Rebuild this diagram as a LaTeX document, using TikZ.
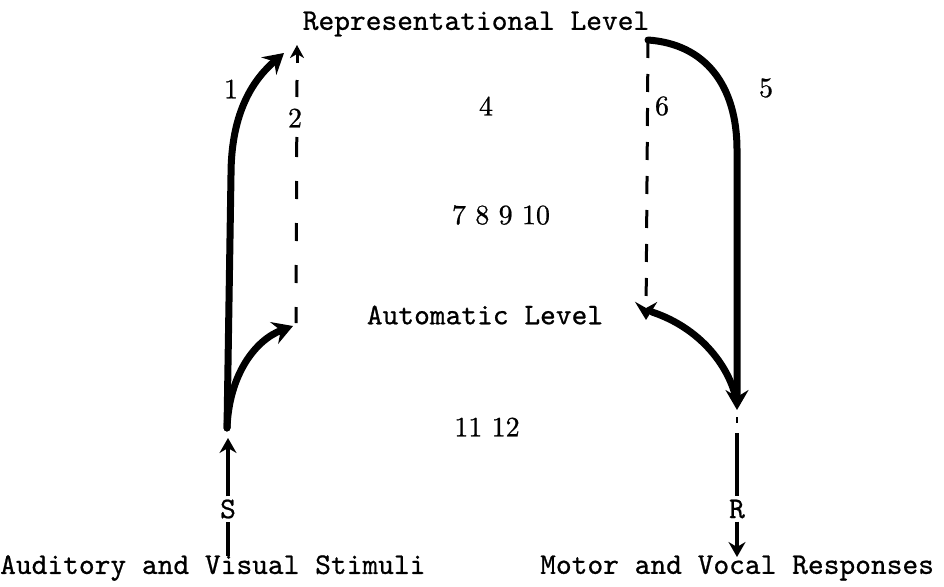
\documentclass[tikz,border=0pt]{standalone}
\usepackage{fontspec}
\newfontfamily\twfont{lmmono10-regular.otf}[FakeBold=0.7]
\newfontfamily\numfont{lmroman10-regular.otf}[FakeBold=0.8]
\usetikzlibrary{arrows.meta}
\tikzset{
  twtext/.style={font=\twfont\fontsize{30}{34}\selectfont, inner sep=0pt},
  numtext/.style={font=\numfont\fontsize{28}{32}\selectfont, inner sep=0pt},
  bigarrow/.style={line width=7pt, line cap=round, -{Stealth[length=20pt,width=23pt,inset=7pt]}},
  bigline/.style={line width=7pt, line cap=round},
  smallhead/.style={line width=3pt, -{Stealth[length=13pt,width=14pt,inset=4pt]}},
  dashtwo/.style={line width=3pt, dash pattern=on 17pt off 40pt on 20pt off 24pt on 18pt off 24pt on 18pt off 24pt on 18pt off 24pt on 20pt},
  bigdasharrow/.style={line width=3pt, dash pattern=on 18pt off 16pt, -{Stealth[length=18pt,width=22pt,inset=6pt]}},
  thinline/.style={line width=3.5pt},
  thinarrow/.style={line width=3.5pt, -{Stealth[length=15pt,width=17pt,inset=5pt]}}
}
\begin{document}
\begin{tikzpicture}[x=1pt,y=-1pt]
\useasboundingbox[fill=white] (0,0) rectangle (944,586);

% texts
\node[twtext] (rep) at (476,24) {Representational Level};
\node[twtext] (auto) at (485,315) {Automatic Level};
\node[twtext, anchor=west] (stim) at (0,568) {Auditory and Visual Stimuli};
\node[twtext, anchor=west] (resp) at (540,568) {Motor and Vocal Responses};
\node[twtext, inner sep=3pt] (S) at (228,509) {S};
\node[twtext, inner sep=3pt] (R) at (737,509) {R};

\node[numtext] (n1) at (231,89) {1};
\node[numtext] (n2) at (295,118) {2};
\node[numtext] (n4) at (486,106) {4};
\node[numtext] (n5) at (766,88) {5};
\node[numtext] (n6) at (662,106) {6};
\node[numtext] (n7) at (501,215) {7 8 9 10};
\node[numtext] (n11) at (487,427) {11 12};

% coordinates
\coordinate (lbase) at (227,428);
\coordinate (lbend) at (231,175);
\coordinate (l1tip) at (284,53);
\coordinate (ltip) at (293,326);
\coordinate (d2stem) at (297,63);
\coordinate (d2top) at (297,45);
\coordinate (d2a) at (297,80);
\coordinate (d2bot) at (296,323);
\coordinate (stop) at (228,438);
\coordinate (sbot) at (228,556);
\coordinate (rtop) at (648,40);
\coordinate (d6bot) at (646,320);
\coordinate (rbend) at (737,150);
\coordinate (rtip) at (737,410);
\coordinate (astart) at (652,312);
\coordinate (aend) at (736,398);
\coordinate (rtick1) at (737,417);
\coordinate (rtick2) at (737,423);
\coordinate (rl1) at (737,433);
\coordinate (rbot) at (737,557);

% left side
\draw[bigarrow] (lbase) -- (lbend) .. controls (231,110) and (255,78) .. (l1tip);
\draw[bigarrow] (lbase) .. controls (229,375) and (255,340) .. (ltip);
\draw[smallhead] (d2stem) -- (d2top);
\draw[dashtwo] (d2a) -- (d2bot);
\draw[thinline] (sbot) -- (S.south);
\draw[thinarrow] (S.north) -- (stop);

% right side
\draw[bigdasharrow] (rtop) -- (d6bot);
\draw[bigarrow] (rtop) .. controls (705,44) and (737,85) .. (rbend) -- (rtip);
\draw[bigline] (astart) .. controls (700,328) and (728,365) .. (aend);
\draw[line width=2pt] (rtick1) -- (rtick2);
\draw[thinline] (rl1) -- (R.north);
\draw[thinarrow] (R.south) -- (rbot);
\end{tikzpicture}
\end{document}
